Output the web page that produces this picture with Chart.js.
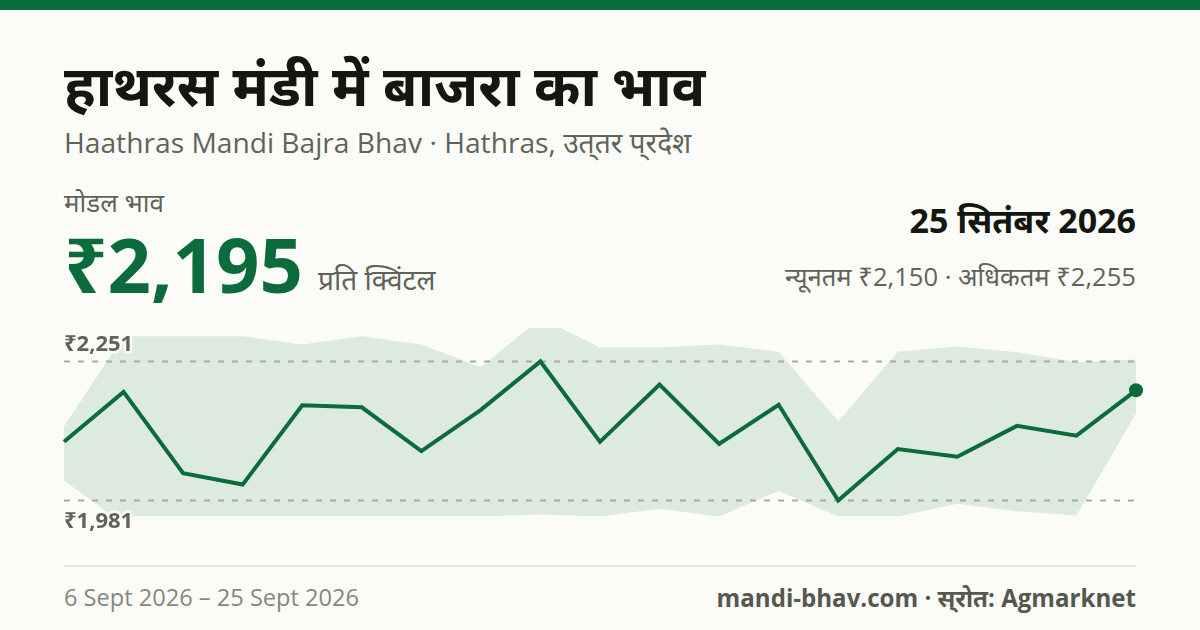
<!DOCTYPE html>
<html lang="hi">
<head>
<meta charset="utf-8">
<title>हाथरस मंडी में बाजरा का भाव</title>
<script src="https://cdn.jsdelivr.net/npm/chart.js@4"></script>
<style>
    html, body { margin: 0; padding: 0; }
    body {
        width: 1200px;
        height: 630px;
        position: relative;
        overflow: hidden;
        background: #fbfcf8;
        font-family: "Open Sans", "Noto Sans", sans-serif;
    }
    .topbar { position: absolute; left: 0; top: 0; width: 1200px; height: 10px; background: #0b6b3a; }
    .txt { position: absolute; white-space: nowrap; line-height: 1; }
    #title { left: 64px; top: 56px; font-size: 56px; font-weight: 700; color: #141610; }
    #subtitle { left: 64px; top: 128px; font-size: 28.2px; color: #5f6358; }
    #modalLabel { left: 64px; top: 189px; font-size: 26px; color: #5f6358; }
    #price { left: 64px; top: 226px; font-size: 76px; font-weight: 700; color: #0b6b3a; }
    #unit { left: 318px; top: 265px; font-size: 28px; color: #5f6358; }
    #date { right: 64px; top: 203px; font-size: 34px; font-weight: 700; color: #141610; }
    #range { right: 64px; top: 264px; font-size: 25.6px; color: #5f6358; }
    #rule { position: absolute; left: 64px; top: 565px; width: 1072px; height: 2px; background: #e4e6de; }
    #period { left: 64px; top: 586px; font-size: 23.6px; color: #85887f; }
    #source { right: 64px; top: 586px; font-size: 24.1px; font-weight: 700; color: #55584f; }
    #chartBox { position: absolute; left: 44px; top: 308px; width: 1112px; height: 228px; }
</style>
</head>
<body>
<div class="topbar"></div>
<div class="txt" id="title">हाथरस मंडी में बाजरा का भाव</div>
<div class="txt" id="subtitle">Haathras Mandi Bajra Bhav · Hathras, उत्&zwnj;तर प्&zwnj;रदेश</div>
<div class="txt" id="modalLabel">मोडल भाव</div>
<div class="txt" id="price">₹2,195</div>
<div class="txt" id="unit">प्रति क्विंटल</div>
<div class="txt" id="date">25 सितंबर 2026</div>
<div class="txt" id="range">न्यूनतम ₹2,150 · अधिकतम ₹2,255</div>
<div id="chartBox"><canvas id="priceChart"></canvas></div>
<div id="rule"></div>
<div class="txt" id="period">6 Sept 2026 – 25 Sept 2026</div>
<div class="txt" id="source">mandi-bhav.com · स्&zwnj;रोत: Agmarknet</div>

<script>
// 19 arrivals between 6 and 25 Sept, the picture has no date labels so the skipped day is a guess
const dates = ["6 Sept", "7 Sept", "8 Sept", "9 Sept", "10 Sept", "11 Sept", "12 Sept", "13 Sept", "14 Sept", "15 Sept",
    "16 Sept", "17 Sept", "18 Sept", "19 Sept", "21 Sept", "22 Sept", "23 Sept", "24 Sept", "25 Sept"];
const modalPrices = [2095, 2192, 2034, 2012, 2166, 2162, 2077, 2157, 2251, 2095,
    2206, 2091, 2167, 1981, 2081, 2066, 2126, 2107, 2195];
const maxPrices = [2125, 2300, 2300, 2300, 2284, 2300, 2284, 2240, 2335, 2278,
    2278, 2284, 2270, 2135, 2270, 2280, 2269, 2250, 2255];
const minPrices = [2020, 1935, 1950, 1950, 1950, 1950, 1950, 1950, 1954, 1950,
    1965, 1950, 2000, 1950, 1950, 1975, 1960, 1952, 2150];
const guideValues = [2251, 1981];
const guideLabels = ["₹2,251", "₹1,981"];
const axisMin = 1951;
const axisMax = 2316;

// Writes the high and low labels next to the dashed lines, with a halo over the band
const guideLabelPlugin = {
    id: "guideLabels",
    afterDatasetsDraw(chart) {
        const ctx = chart.ctx;
        const yScale = chart.scales.y;
        ctx.save();
        ctx.font = "700 22px 'Open Sans', 'Noto Sans', sans-serif";
        ctx.textAlign = "left";
        ctx.textBaseline = "middle";
        ctx.lineJoin = "round";
        guideLabels.forEach((label, index) => {
            const y = yScale.getPixelForValue(guideValues[index]) + (index === 0 ? -17 : 21);
            ctx.lineWidth = 5;
            ctx.strokeStyle = "#fbfcf8";
            ctx.strokeText(label, chart.chartArea.left, y);
            ctx.fillStyle = "#5f6358";
            ctx.fillText(label, chart.chartArea.left, y);
        });
        ctx.restore();
    }
};

const lastIndex = modalPrices.length - 1;

new Chart(document.getElementById("priceChart"), {
    type: "line",
    data: {
        labels: dates,
        datasets: [
            {
                label: "Modal",
                data: modalPrices,
                borderColor: "#0b6b3a",
                borderWidth: 4,
                tension: 0,
                fill: false,
                clip: false,
                order: 0,
                pointRadius: modalPrices.map((_, i) => (i === lastIndex ? 7 : 0)),
                pointBackgroundColor: "#0b6b3a",
                pointBorderWidth: 0
            },
            {
                label: "Highest guide",
                data: dates.map(() => guideValues[0]),
                borderColor: "#a9aca2",
                borderWidth: 2,
                borderDash: [6, 8],
                pointRadius: 0,
                fill: false,
                order: 1
            },
            {
                label: "Lowest guide",
                data: dates.map(() => guideValues[1]),
                borderColor: "#a9aca2",
                borderWidth: 2,
                borderDash: [6, 8],
                pointRadius: 0,
                fill: false,
                order: 1
            },
            {
                label: "Max",
                data: maxPrices,
                borderWidth: 0,
                pointRadius: 0,
                tension: 0,
                clip: 0,
                backgroundColor: "rgba(11, 107, 58, 0.12)",
                fill: "+1",
                order: 2
            },
            {
                label: "Min",
                data: minPrices,
                borderWidth: 0,
                pointRadius: 0,
                tension: 0,
                clip: 0,
                fill: false,
                order: 2
            }
        ]
    },
    options: {
        responsive: true,
        maintainAspectRatio: false,
        animation: false,
        layout: { padding: 20 },
        plugins: {
            legend: { display: false },
            tooltip: { enabled: false }
        },
        scales: {
            x: { display: false, offset: false },
            y: { display: false, min: axisMin, max: axisMax }
        }
    },
    plugins: [guideLabelPlugin]
});
</script>
</body>
</html>
